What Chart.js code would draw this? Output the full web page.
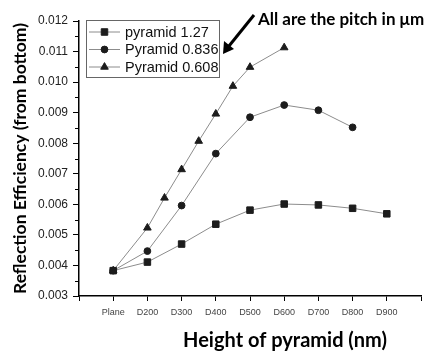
<!DOCTYPE html>
<html>
<head>
<meta charset="utf-8">
<script src="https://cdn.jsdelivr.net/npm/chart.js@4.4.1/dist/chart.umd.min.js"></script>
<style>
  html, body { margin: 0; padding: 0; background: #fff; }
</style>
</head>
<body>
<canvas id="myChart" width="427" height="352"></canvas>
<script>
// Catégories de l'axe x (0 et 10 sont des positions vides)
const xLabels = ["", "Plane", "D200", "D300", "D400", "D500", "D600", "D700", "D800", "D900", ""];

// pyramid 1.27
const xPitch127 = [1, 2, 3, 4, 5, 6, 7, 8, 9];
const yPitch127 = [0.00383, 0.00411, 0.00470, 0.00535, 0.00581, 0.00601, 0.00598, 0.00587, 0.00569];

// Pyramid 0.836
const xPitch0836 = [1, 2, 3, 4, 5, 6, 7, 8];
const yPitch0836 = [0.00383, 0.00447, 0.00596, 0.00766, 0.00885, 0.00925, 0.00908, 0.00852];

// Pyramid 0.608 (points aussi aux demi-pas)
const xPitch0608 = [1, 2, 2.5, 3, 3.5, 4, 4.5, 5, 6];
const yPitch0608 = [0.00383, 0.00523, 0.00621, 0.00714, 0.00807, 0.00896, 0.00987, 0.01049, 0.01113];

const seriesNames = ["pyramid 1.27", "Pyramid 0.836", "Pyramid 0.608"];

const lineColor = "#8c8c8c";
const markColor = "#1c1c1c";

function toPoints(xs, ys) {
  return xs.map((x, i) => ({ x: x, y: ys[i] }));
}

function makeDataset(label, xs, ys, style, radius) {
  return {
    label: label,
    data: toPoints(xs, ys),
    borderColor: lineColor,
    borderWidth: 1,
    pointStyle: style,
    pointRadius: radius,
    pointBackgroundColor: markColor,
    pointBorderColor: markColor,
    pointBorderWidth: 1,
    showLine: true,
    tension: 0,
  };
}

// petits traits secondaires sur l'axe y, légende encadrée, titres et flèche
const extrasPlugin = {
  id: "extras",
  afterDraw(chart) {
    const ctx = chart.ctx;
    const yScale = chart.scales.y;
    const area = chart.chartArea;
    ctx.save();

    // minor ticks
    ctx.strokeStyle = "#000";
    ctx.lineWidth = 1;
    for (let v = 0.0035; v < 0.012; v += 0.001) {
      const py = Math.round(yScale.getPixelForValue(v)) + 0.5;
      ctx.beginPath();
      ctx.moveTo(area.left - 4, py);
      ctx.lineTo(area.left, py);
      ctx.stroke();
    }

    // legend
    ctx.strokeStyle = "#666";
    ctx.lineWidth = 1;
    ctx.strokeRect(86.5, 20.5, 133, 57);
    ctx.font = "14.5px 'Liberation Sans', Arial, sans-serif";
    ctx.textBaseline = "middle";
    ctx.textAlign = "left";
    chart.data.datasets.forEach((ds, i) => {
      const ly = 32 + i * 17.5;
      ctx.strokeStyle = lineColor;
      ctx.lineWidth = 1;
      ctx.beginPath();
      ctx.moveTo(89, ly);
      ctx.lineTo(120, ly);
      ctx.stroke();
      ctx.fillStyle = markColor;
      ctx.strokeStyle = markColor;
      Chart.helpers.drawPoint(ctx, {
        pointStyle: ds.pointStyle,
        radius: ds.pointRadius,
        rotation: 0,
        borderWidth: 1,
      }, 104.5, ly);
      ctx.fillStyle = "#111";
      ctx.fillText(seriesNames[i], 125, ly + 0.5);
    });

    // x title
    ctx.fillStyle = "#000";
    ctx.font = "bold 20px Lato, sans-serif";
    ctx.textAlign = "center";
    ctx.textBaseline = "alphabetic";
    ctx.fillText("Height of pyramid (nm)", 285, 347);

    // annotation + arrow
    ctx.font = "bold 17px Lato, sans-serif";
    ctx.textAlign = "left";
    ctx.fillText("All are the pitch in \u03bcm", 258, 25);

    ctx.strokeStyle = "#000";
    ctx.lineWidth = 3;
    ctx.beginPath();
    ctx.moveTo(254, 15);
    ctx.lineTo(229, 46);
    ctx.stroke();
    ctx.fillStyle = "#000";
    ctx.beginPath();
    ctx.moveTo(223, 54);
    ctx.lineTo(224, 41);
    ctx.lineTo(234, 49);
    ctx.closePath();
    ctx.fill();

    ctx.restore();
  },
};

const ctx = document.getElementById("myChart").getContext("2d");
const myChart = new Chart(ctx, {
  type: "scatter",
  data: {
    datasets: [
      makeDataset(seriesNames[0], xPitch127, yPitch127, "rect", 4.6),
      makeDataset(seriesNames[1], xPitch0836, yPitch0836, "circle", 3.4),
      makeDataset(seriesNames[2], xPitch0608, yPitch0608, "triangle", 4.4),
    ],
  },
  options: {
    responsive: false,
    animation: false,
    layout: { padding: { top: 21, right: 4, left: 0, bottom: 0 } },
    plugins: {
      legend: { display: false },
      tooltip: { enabled: false },
    },
    scales: {
      x: {
        type: "linear",
        min: 0,
        max: 10,
        afterFit(scale) { scale.height = 56; },
        afterBuildTicks(scale) {
          scale.ticks = xLabels.map((l, i) => ({ value: i }));
        },
        ticks: {
          autoSkip: false,
          maxRotation: 0,
          padding: 6,
          color: "#444",
          font: { family: "'Liberation Sans', Arial, sans-serif", size: 9 },
          callback: (v) => xLabels[v] || "",
        },
        grid: { drawOnChartArea: false, drawTicks: true, tickLength: 5, tickColor: "#000" },
        border: { color: "#000", width: 1.5 },
      },
      y: {
        min: 0.003,
        max: 0.012,
        afterFit(scale) { scale.width = 79; },
        ticks: {
          stepSize: 0.001,
          padding: 5,
          color: "#222",
          font: { family: "'Liberation Sans', Arial, sans-serif", size: 12 },
          callback: (v) => v.toFixed(3),
        },
        grid: { drawOnChartArea: false, drawTicks: true, tickLength: 6, tickColor: "#000" },
        border: { color: "#000", width: 1.5 },
        title: {
          display: true,
          text: "Reflection Efficiency (from bottom)",
          color: "#000",
          font: { family: "Lato, sans-serif", size: 17.5, weight: "bold" },
          padding: { top: 10, bottom: 0 },
        },
      },
    },
  },
  plugins: [extrasPlugin],
});
</script>
</body>
</html>
